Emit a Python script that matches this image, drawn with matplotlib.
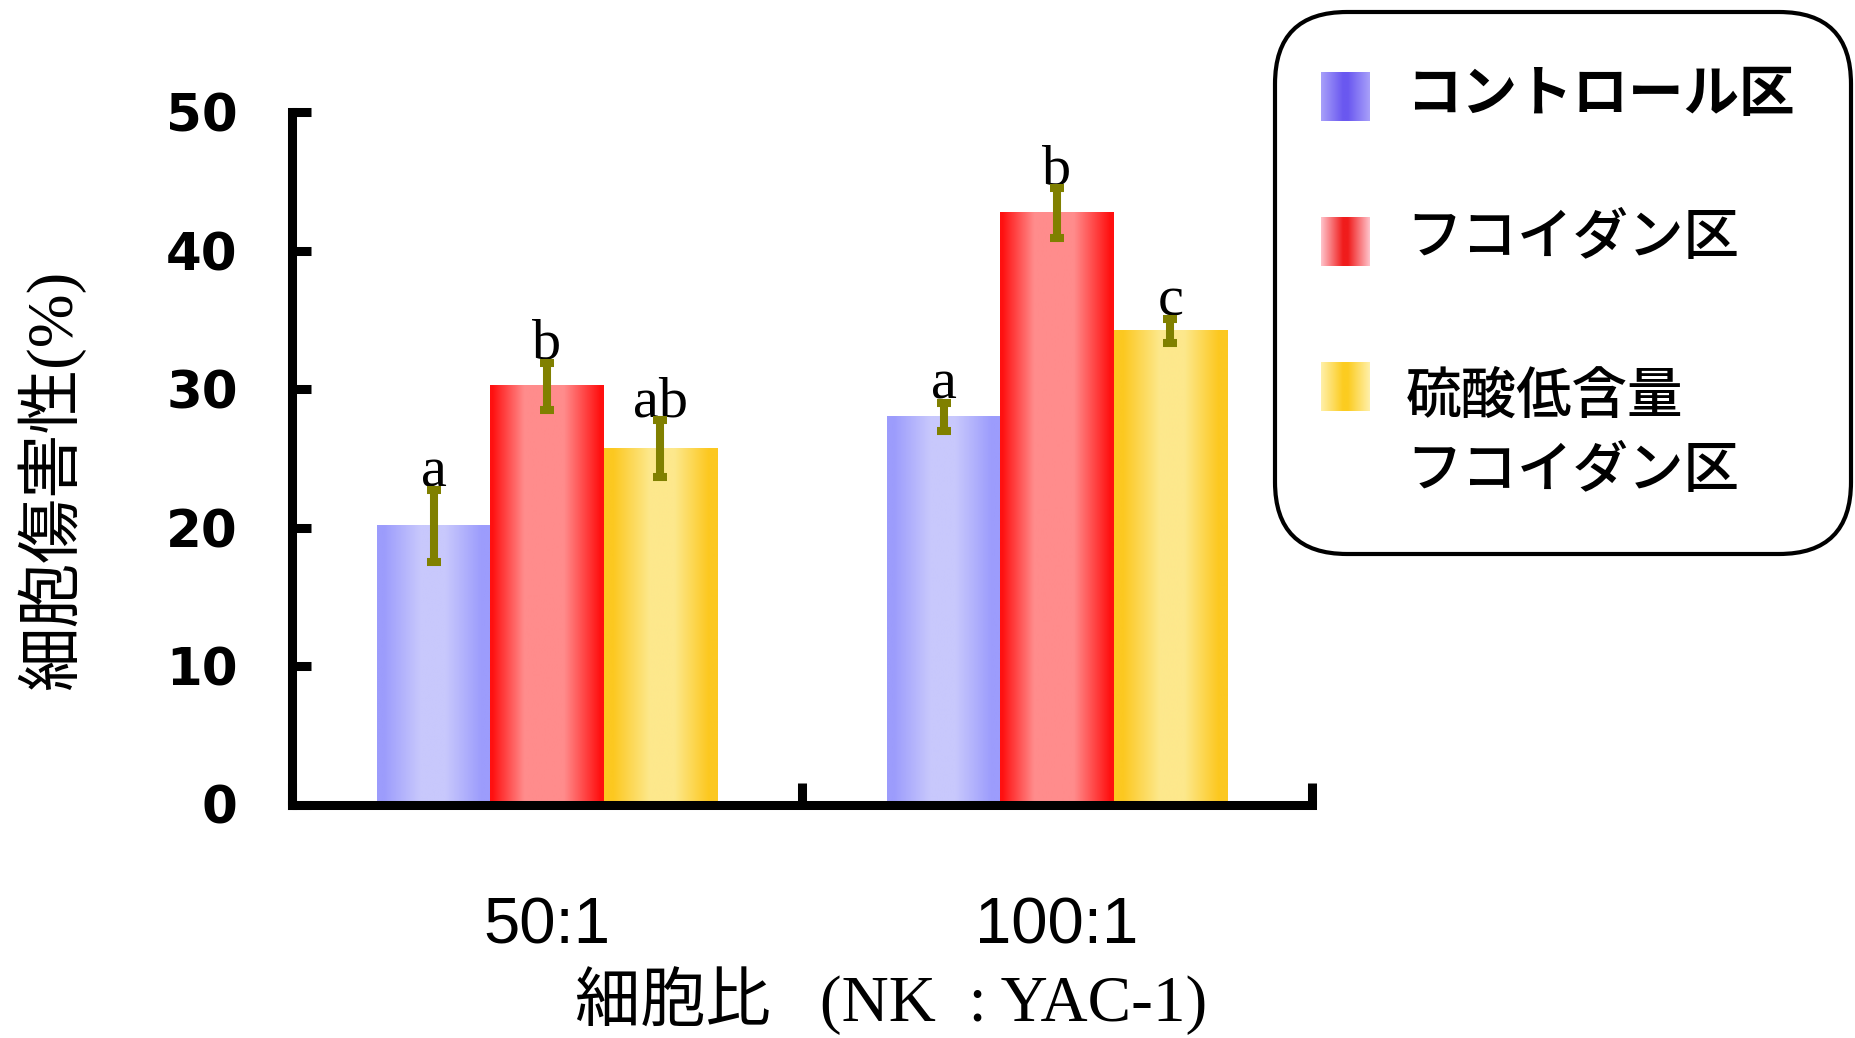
import numpy as np
import matplotlib
matplotlib.use("Agg")
import matplotlib.pyplot as plt
from matplotlib.patches import FancyBboxPatch
from matplotlib.colors import to_rgb

# ---------------- data ----------------
categories = ["50:1", "100:1"]
series_names = ["コントロール区", "フコイダン区", "硫酸低含量\nフコイダン区"]
control_vals = [20.1, 28.0]
fucoidan_vals = [30.2, 42.7]
lowsulf_vals = [25.7, 34.2]
control_err = [2.6, 1.0]
fucoidan_err = [1.7, 1.8]
lowsulf_err = [2.05, 0.85]
control_sig = ["a", "a"]
fucoidan_sig = ["b", "b"]
lowsulf_sig = ["ab", "c"]
yticks = [0, 10, 20, 30, 40, 50]
ylabel = "細胞傷害性(%)"
xlabel = "細胞比   (NK  : YAC-1)"

# ---------------- style ----------------
W, H = 1855, 1038
DPI = 100
bar_grad = [  # (edge colour, centre colour, stops, weights)
    ("#9c9cfc", "#c8c8fc", [0, 0.06, 0.38, 0.6, 0.92, 1], [0, 0, 1, 1, 0, 0]),
    ("#ff1010", "#ff8c8c", [0, 0.02, 0.3, 0.65, 0.97, 1], [0, 0, 1, 1, 0, 0]),
    ("#fcc820", "#fde88c", [0, 0.08, 0.4, 0.62, 0.92, 1], [0, 0, 1, 1, 0, 0]),
]
leg_grad = [
    ("#a8a0fa", "#6a58f0"),
    ("#ffc4cc", "#f01c1c"),
    ("#fff0aa", "#fccc20"),
]
err_color = "#808000"
spine_lw = 6.5

plt.rcParams['font.family'] = ['Liberation Sans', 'Noto Sans CJK JP']

fig = plt.figure(figsize=(W / DPI, H / DPI), dpi=DPI)
ax = fig.add_axes([292 / W, 1 - 804.5 / H, (1312 - 292) / W, (804.5 - 112.3) / H])

values = [control_vals, fucoidan_vals, lowsulf_vals]
errors = [control_err, fucoidan_err, lowsulf_err]
sigs = [control_sig, fucoidan_sig, lowsulf_sig]
x = np.arange(len(categories))
width = 0.222


def gradient_row(c_edge, c_center, stops, weights, n=256):
    t = np.linspace(0, 1, n)
    w = np.interp(t, stops, weights)
    e = np.array(to_rgb(c_edge))
    c = np.array(to_rgb(c_center))
    return (e[None, :] * (1 - w[:, None]) + c[None, :] * w[:, None])[None, :, :]


for i, (vals, errs, sg) in enumerate(zip(values, errors, sigs)):
    pos = x + (i - 1) * width
    bars = ax.bar(pos, vals, width, facecolor="none", edgecolor="none", zorder=2)
    img = gradient_row(*bar_grad[i])
    for b in bars:
        ax.imshow(img, extent=[b.get_x(), b.get_x() + b.get_width(), 0, b.get_height()],
                  aspect="auto", interpolation="bilinear", zorder=2)
    ax.errorbar(pos, vals, yerr=errs, fmt="none", ecolor=err_color, elinewidth=5.8,
                capsize=5, capthick=5.8, zorder=4)
    for p, v, e, s in zip(pos, vals, errs, sg):
        ax.annotate(s, (p, v + e), xytext=(0, 3), textcoords="offset points",
                    ha="center", va="baseline", fontsize=42,
                    family=["Liberation Serif"], zorder=3)

ax.set_xlim(-0.5, len(categories) - 0.5)
ax.set_ylim(0, 50)
for s in ["top", "right"]:
    ax.spines[s].set_visible(False)
for s in ["left", "bottom"]:
    ax.spines[s].set_linewidth(spine_lw)
    ax.spines[s].set_capstyle("projecting")

ax.set_yticks(yticks)
ax.set_yticklabels([str(v) for v in yticks], fontsize=37, fontweight="bold",
                   family=["DejaVu Sans"])
ax.tick_params(axis="y", direction="in", length=14, width=spine_lw, pad=39)

ax.set_xticks(np.arange(len(categories) + 1) - 0.5)
ax.set_xticklabels([])
ax.set_xticks(x, minor=True)
ax.set_xticklabels(categories, minor=True, fontsize=47)
ax.tick_params(axis="x", which="major", direction="in", length=16, width=spine_lw)
ax.tick_params(axis="x", which="minor", length=0, pad=66)

fig.text(50.5 / W, 1 - 480 / H, ylabel, rotation=90, ha="center", va="center",
         fontsize=46.5, family=["Liberation Serif", "Noto Sans CJK JP"])
fig.text(891 / W, 1 - 1001 / H, xlabel, ha="center", va="center",
         fontsize=47, family=["Liberation Serif", "Noto Sans CJK JP"])

# ---------------- legend ----------------
lax = fig.add_axes([0, 0, 1, 1], zorder=5)
lax.set_xlim(0, W)
lax.set_ylim(H, 0)
lax.axis("off")
lax.patch.set_visible(False)
box = FancyBboxPatch((1275, 12), 576, 542, boxstyle="round,pad=0,rounding_size=72",
                     facecolor="white", edgecolor="black", linewidth=3, zorder=1)
lax.add_patch(box)
row_y = [97, 242, 387]
text_y = [95, 238, 434]
weights = ["bold", "medium", "medium"]
for i, name in enumerate(series_names):
    g = gradient_row(leg_grad[i][0], leg_grad[i][1], [0, 0.45, 0.55, 1], [0, 1, 1, 0])
    lax.imshow(g, extent=[1321, 1370, row_y[i] + 24.5, row_y[i] - 24.5],
               aspect="auto", interpolation="bilinear", zorder=3)
    lax.text(1406, text_y[i], name, ha="left", va="center", fontsize=40,
             fontweight=weights[i], family=["Noto Sans CJK JP"], linespacing=1.4,
             zorder=4)
lax.set_xlim(0, W)
lax.set_ylim(H, 0)

fig.savefig("out.png", dpi=DPI)
